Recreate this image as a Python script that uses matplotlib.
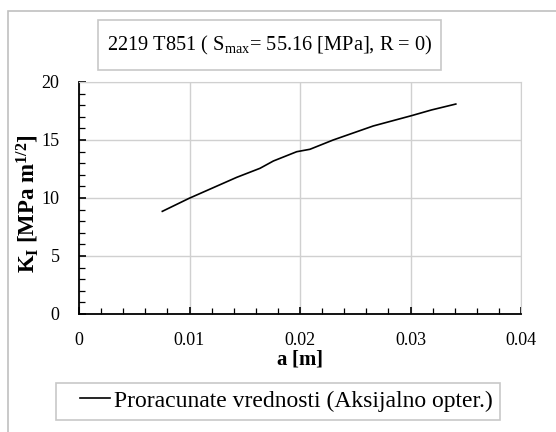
import matplotlib
matplotlib.use("Agg")
import matplotlib.pyplot as plt
from matplotlib.patches import Rectangle
from matplotlib.ticker import MultipleLocator

plt.rcParams['font.family'] = ['Liberation Serif', 'DejaVu Serif']
plt.rcParams['mathtext.fontset'] = 'custom'
plt.rcParams['mathtext.rm'] = 'Liberation Serif'
plt.rcParams['mathtext.it'] = 'Liberation Serif:italic'
plt.rcParams['mathtext.bf'] = 'Liberation Serif:bold'

# crack length a [m] and stress intensity K_I [MPa m^1/2]
a_vals = [0.00754, 0.00996, 0.01427, 0.01638, 0.01759, 0.0197, 0.0209,
          0.0230, 0.02663, 0.0301, 0.0319, 0.0341]
k_vals = [8.85, 9.97, 11.78, 12.56, 13.19, 13.99, 14.2,
          15.0, 16.21, 17.1, 17.59, 18.1]
series_name = 'Proracunate vrednosti (Aksijalno opter.)'
title_text = r'2219 T851 ( S$_{\mathrm{max}}$= 55.16 [MPa], R = 0)'

W, H = 556, 432
fig = plt.figure(figsize=(W / 100, H / 100), dpi=100)


def box(x0, y0, x1, y1, color):
    # pixel coords, y from top
    fig.patches.append(Rectangle((x0 / W, 1 - y1 / H), (x1 - x0) / W, (y1 - y0) / H,
                                 transform=fig.transFigure, fill=False,
                                 edgecolor=color, linewidth=1.2))


# outer chart border
box(8, 11, 600, 480, '#c0c0c0')
# title box and legend box
box(98, 20, 441, 70, '#c8c8c8')
box(56, 383, 500, 420, '#c8c8c8')

ax = fig.add_axes([79 / W, 1 - 314 / H, (521 - 79) / W, (314 - 82) / H])
ax.plot(a_vals, k_vals, color='black', linewidth=1.2, label=series_name)

ax.set_xlim(0, 0.04)
ax.set_ylim(0, 20)
ax.xaxis.set_minor_locator(MultipleLocator(0.002))
ax.yaxis.set_major_locator(MultipleLocator(5))
ax.yaxis.set_minor_locator(MultipleLocator(1))
ax.set_xticks([0, 0.01, 0.02, 0.03, 0.04])
ax.set_xticklabels(['0', '0.01', '0.02', '0.03', '0.04'])
ax.tick_params(which='both', direction='in', labelsize=13)
ax.tick_params(axis='x', which='both', pad=13)
ax.tick_params(axis='y', which='both', pad=14)
ax.tick_params(which='major', length=5, width=1.2)
ax.tick_params(which='minor', length=4, width=0.9)
ax.tick_params(top=False, right=False, which='both')
ax.grid(True, which='major', color='#d0d0d0', linewidth=1)
for s in ['top', 'right']:
    ax.spines[s].set_color('#d0d0d0')
for s in ['left', 'bottom']:
    ax.spines[s].set_linewidth(1.3)

ax.set_xlabel(r'$\mathbf{a\ [m]}$', fontsize=15)
ax.xaxis.set_label_coords(0.5, -(359 - 314) / (314 - 82), transform=ax.transAxes)
ax.xaxis.label.set_va('center')
ax.set_ylabel(r'$\mathbf{K_{I}\ [MPa\ m^{1/2}]}$', fontsize=16.5)
ax.yaxis.set_label_coords(-(79 - 28) / (521 - 79), 0.475, transform=ax.transAxes)
ax.yaxis.label.set_va('center')

fig.text((98 + 441) / 2 / W, 1 - 45 / H, title_text, fontsize=14.7,
         ha='center', va='center')

leg = fig.legend(loc='center', bbox_to_anchor=(286 / W, 1 - 401 / H),
                 fontsize=17, frameon=False,
                 handlelength=1.3, handletextpad=0.15)

fig.savefig('out.png', dpi=100)
